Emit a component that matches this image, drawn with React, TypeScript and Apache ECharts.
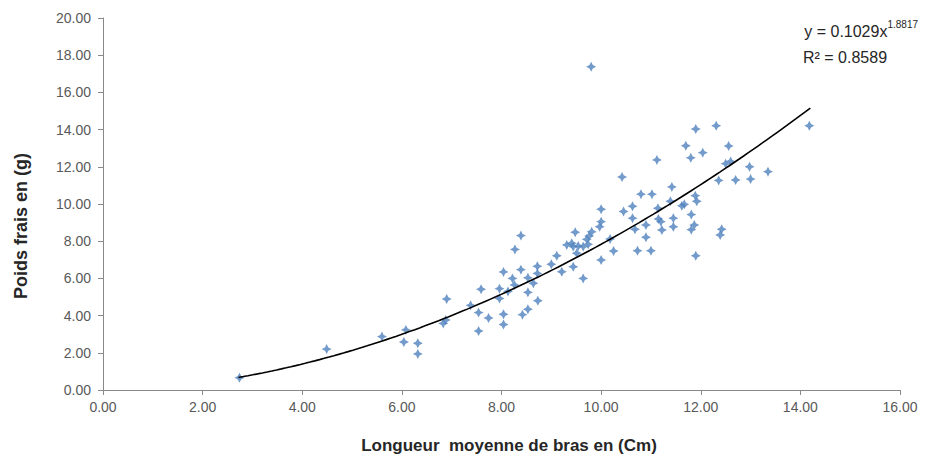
import React, { useEffect, useRef } from "react";
import * as echarts from "echarts";

const xValues: number[] = [
  2.74, 4.49, 5.6, 6.08, 6.04, 6.32, 6.32, 6.83, 6.88, 6.9,
  7.38, 7.54, 7.54, 7.59, 7.74, 7.96, 7.96, 8.04, 8.04, 8.04,
  8.13, 8.22, 8.27, 8.26, 8.39, 8.39, 8.42, 8.53, 8.53, 8.53,
  8.64, 8.72, 8.72, 8.73, 9.0, 9.11, 9.21, 9.31, 9.41, 9.44,
  9.54, 9.64, 9.74, 9.48, 9.51, 9.44, 9.64, 9.71, 9.76, 9.81,
  9.8, 9.97, 10.0, 10.0, 10.0, 10.18, 10.25, 10.42, 10.45, 10.63,
  10.63, 10.68, 10.73, 10.8, 10.9, 10.9, 11.0, 11.02, 11.12, 11.14,
  11.15, 11.2, 11.22, 11.39, 11.42, 11.45, 11.45, 11.62, 11.67, 11.7,
  11.8, 11.81, 11.81, 11.87, 11.89, 11.92, 11.9, 11.9, 12.04, 12.31,
  12.36, 12.39, 12.42, 12.5, 12.56, 12.6, 12.7, 12.98, 13.0, 13.35,
  14.18,
];

const yValues: number[] = [
  0.66, 2.2, 2.87, 3.23, 2.58, 2.51, 1.94, 3.58, 3.76, 4.89,
  4.55, 4.16, 3.17, 5.42, 3.87, 4.92, 5.45, 6.35, 4.07, 3.52,
  5.3, 6.0, 7.56, 5.65, 8.3, 6.47, 4.05, 6.03, 5.25, 4.34,
  5.74, 6.65, 6.27, 4.8, 6.76, 7.22, 6.36, 7.8, 7.89, 7.71,
  7.74, 7.71, 7.83, 8.48, 7.35, 6.63, 6.0, 8.1, 8.28, 8.51,
  17.38, 8.78, 9.05, 9.72, 6.99, 8.12, 7.47, 11.45, 9.6, 9.88,
  9.24, 8.64, 7.49, 10.53, 8.87, 8.21, 7.49, 10.53, 12.37, 9.77,
  9.2, 9.05, 8.6, 10.15, 10.92, 9.24, 8.78, 9.9, 9.98, 13.13,
  12.48, 9.43, 8.62, 8.87, 10.45, 10.15, 14.03, 7.22, 12.76, 14.21,
  11.27, 8.33, 8.64, 12.17, 13.12, 12.29, 11.29, 12.0, 11.34, 11.74,
  14.21,
];

const xTicks: number[] = [0, 2, 4, 6, 8, 10, 12, 14, 16];
const yTicks: number[] = [0, 2, 4, 6, 8, 10, 12, 14, 16, 18, 20];

const TREND_A = 0.1029;
const TREND_B = 1.8817;
const R2 = 0.8589;
const TREND_X_START = 2.72;
const TREND_X_END = 14.2;

const X_TITLE = "Longueur  moyenne de bras en (Cm)";
const Y_TITLE = "Poids frais en (g)";

const MARKER =
  "path://M5,0 L6.7,3.3 L10,5 L6.7,6.7 L5,10 L3.3,6.7 L0,5 L3.3,3.3 Z";

export default function App() {
  const ref = useRef<HTMLDivElement>(null);

  useEffect(() => {
    if (!ref.current) return;
    const chart = echarts.init(ref.current, undefined, { renderer: "svg" });

    const points = xValues.map((x, i) => [x, yValues[i]]);
    const trend: number[][] = [];
    const steps = 120;
    for (let i = 0; i <= steps; i++) {
      const x = TREND_X_START + ((TREND_X_END - TREND_X_START) * i) / steps;
      trend.push([x, TREND_A * Math.pow(x, TREND_B)]);
    }

    const axisColor = "#898989";
    const labelColor = "#595959";
    const font = "'Liberation Sans', Arial, sans-serif";

    chart.setOption({
      animation: false,
      backgroundColor: "#ffffff",
      grid: { left: 103, right: 25, top: 18, bottom: 71, containLabel: false },
      xAxis: {
        type: "value",
        min: xTicks[0],
        max: xTicks[xTicks.length - 1],
        interval: 2,
        axisLine: { show: true, lineStyle: { color: axisColor, width: 1 } },
        axisTick: { show: true, inside: false, length: 5, lineStyle: { color: axisColor } },
        axisLabel: {
          margin: 10,
          color: labelColor,
          fontFamily: font,
          fontSize: 14,
          formatter: (v: number) => v.toFixed(2),
        },
        splitLine: { show: false },
      },
      yAxis: {
        type: "value",
        min: yTicks[0],
        max: yTicks[yTicks.length - 1],
        interval: 2,
        axisLine: { show: true, lineStyle: { color: axisColor, width: 1 } },
        axisTick: { show: true, inside: false, length: 5, lineStyle: { color: axisColor } },
        axisLabel: {
          margin: 12,
          color: labelColor,
          fontFamily: font,
          fontSize: 14,
          formatter: (v: number) => v.toFixed(2),
        },
        splitLine: { show: false },
      },
      series: [
        {
          type: "scatter",
          data: points,
          symbol: MARKER,
          symbolSize: 10,
          itemStyle: { color: "#4F81BD" },
          z: 2,
        },
        {
          type: "line",
          data: trend,
          showSymbol: false,
          smooth: false,
          lineStyle: { color: "#000000", width: 1.6 },
          z: 3,
        },
      ],
      graphic: [
        {
          type: "text",
          x: 509,
          y: 445,
          style: {
            text: X_TITLE,
            fontFamily: font,
            fontSize: 17,
            fontWeight: "bold",
            fill: "#262626",
            align: "center",
            verticalAlign: "middle",
          },
        },
        {
          type: "text",
          x: 21,
          y: 226,
          rotation: Math.PI / 2,
          style: {
            text: Y_TITLE,
            fontFamily: font,
            fontSize: 18,
            fontWeight: "bold",
            fill: "#262626",
            align: "center",
            verticalAlign: "middle",
          },
        },
        {
          type: "text",
          right: 7,
          top: 19,
          style: {
            text: "{a|y = " + TREND_A + "x}{s|" + TREND_B + "}",
            rich: {
              a: { fontFamily: font, fontSize: 16, fill: "#262626", verticalAlign: "bottom", lineHeight: 20 },
              s: { fontFamily: font, fontSize: 10, fill: "#262626", verticalAlign: "top", padding: [0, 0, 8, 0] },
            },
          },
        },
        {
          type: "text",
          x: 845,
          y: 57,
          style: {
            text: "R² = " + R2,
            fontFamily: font,
            fontSize: 16,
            fill: "#262626",
            align: "center",
            verticalAlign: "middle",
          },
        },
      ],
    });

    return () => chart.dispose();
  }, []);

  return (
    <div
      ref={ref}
      style={{ position: "fixed", left: 0, top: 0, width: 925, height: 461, background: "#fff" }}
    />
  );
}
